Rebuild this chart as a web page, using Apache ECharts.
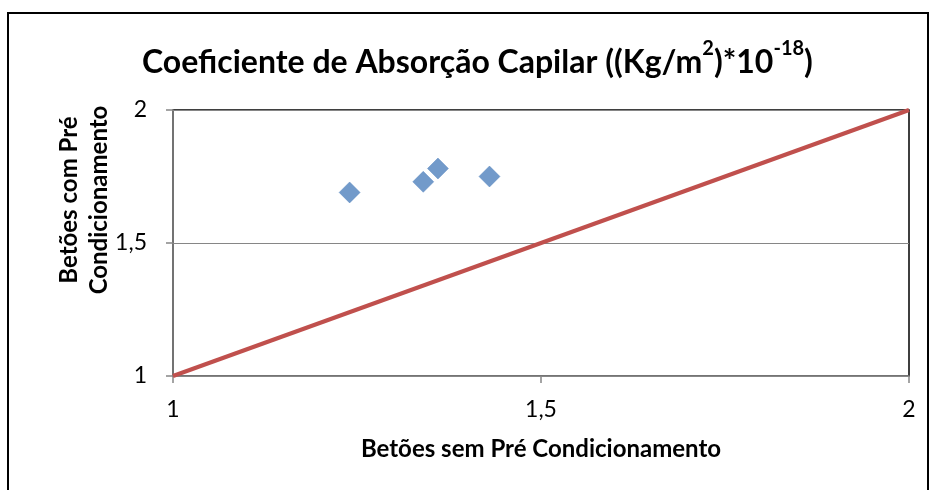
<!DOCTYPE html>
<html>
<head>
<meta charset="utf-8">
<script src="https://cdn.jsdelivr.net/npm/echarts@6/dist/echarts.min.js"></script>
<style>
  html, body { margin: 0; padding: 0; background: #fff; }
  #chart { width: 931px; height: 490px; }
</style>
</head>
<body>
<div id="chart"></div>
<script>
// Coeficiente de absorção capilar: betões sem vs com pré-condicionamento
const semPre = [1.24, 1.34, 1.36, 1.43];
const comPre = [1.69, 1.73, 1.78, 1.75];
const refLineX = [1, 2];
const refLineY = [1, 2];
const axisTicks = [1, 1.5, 2];

const FONT = 'Lato';
const fmt = v => String(v).replace('.', ',');

const chart = echarts.init(document.getElementById('chart'), null, { renderer: 'canvas' });

chart.setOption({
  animation: false,
  backgroundColor: '#fff',
  textStyle: { fontFamily: FONT },
  title: {
    text: '{t|Coeficiente de Absorção Capilar ((Kg/m}{s|2}{t|)*10}{s|-18}{t|)}',
    left: 137,
    top: 34,
    textStyle: {
      rich: {
        t: { fontFamily: FONT, fontWeight: 'bold', fontSize: 32, color: '#000', lineHeight: 40, verticalAlign: 'bottom' },
        s: { fontFamily: FONT, fontWeight: 'bold', fontSize: 20, color: '#000', lineHeight: 40, verticalAlign: 'top', padding: [0, 0, 10, 0] }
      }
    }
  },
  grid: {
    left: 173, right: 22, top: 110, bottom: 114,
    show: true, borderColor: '#000', borderWidth: 1.5
  },
  xAxis: {
    type: 'value', min: 1, max: 2, interval: 0.5,
    axisLine: { show: true, onZero: false, lineStyle: { color: '#868686', width: 1.5 } },
    axisTick: { show: true, length: 7, lineStyle: { color: '#868686', width: 1.5 } },
    splitLine: { show: false },
    axisLabel: { formatter: fmt, fontFamily: FONT, fontSize: 23, color: '#000', margin: 22 },
    name: 'Betões sem Pré Condicionamento',
    nameLocation: 'middle',
    nameGap: 61,
    nameTextStyle: { fontFamily: FONT, fontWeight: 'bold', fontSize: 24, color: '#000' }
  },
  yAxis: {
    type: 'value', min: 1, max: 2, interval: 0.5,
    axisLine: { show: true, onZero: false, lineStyle: { color: '#868686', width: 1.5 } },
    axisTick: { show: true, length: 7, lineStyle: { color: '#868686', width: 1.5 } },
    splitLine: { show: true, lineStyle: { color: '#868686', width: 1.2 } },
    axisLabel: { formatter: fmt, fontFamily: FONT, fontSize: 23, color: '#000', margin: 26 }
  },
  graphic: [
    {
      type: 'rect',
      shape: { x: 8, y: 13, width: 920, height: 490 },
      style: { fill: 'none', stroke: '#000', lineWidth: 2 },
      silent: true, z: -1
    },
    {
      type: 'text',
      x: 84, y: 200,
      rotation: Math.PI / 2,
      style: {
        text: 'Betões com Pré\nCondicionamento',
        fontFamily: FONT, fontWeight: 'bold', fontSize: 24, fill: '#000',
        align: 'center', verticalAlign: 'middle', lineHeight: 30
      }
    }
  ],
  series: [
    {
      type: 'line',
      data: refLineX.map((x, i) => [x, refLineY[i]]),
      symbol: 'none',
      lineStyle: { color: '#C0504D', width: 4 },
      z: 2
    },
    {
      type: 'scatter',
      data: semPre.map((x, i) => [x, comPre[i]]),
      symbol: 'diamond',
      symbolSize: [21, 21],
      itemStyle: { color: '#4F81BD', borderColor: '#4A7EBB', borderWidth: 0.5 },
      z: 3
    }
  ]
});
</script>
</body>
</html>
